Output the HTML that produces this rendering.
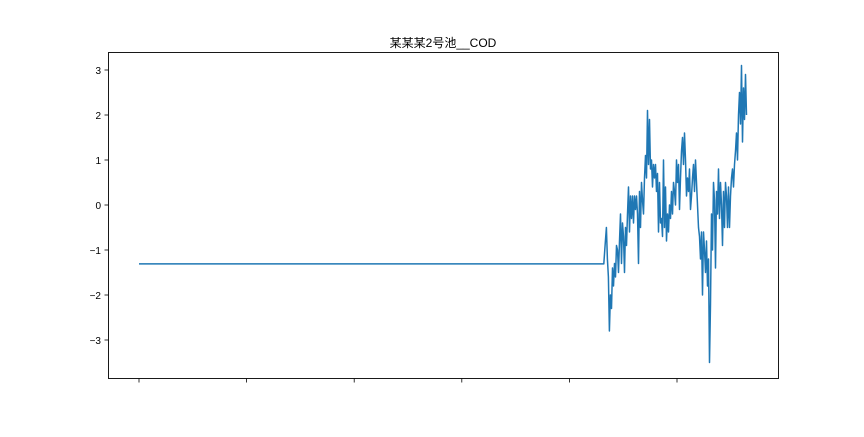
<!DOCTYPE html>
<html><head><meta charset="utf-8"><style>
body{margin:0;background:#fff;}
svg text{font-family:"Liberation Sans","DejaVu Sans","Noto Sans CJK SC",sans-serif;}
</style></head><body>
<svg id="chart" width="864" height="432" xmlns="http://www.w3.org/2000/svg">
<rect x="0" y="0" width="864" height="432" fill="#fff"/>
<text x="443" y="47" font-size="12" text-anchor="middle" fill="#000">某某某2号池__COD</text>
<g id="plot"></g>
<rect x="108.5" y="52.5" width="670" height="326" fill="none" stroke="#000" stroke-width="0.9"/>
</svg>
<script>
const yTicks=[3,2,1,0,-1,-2,-3];
const xTicks=[0,1,2,3,4,5];
const flatX=[0,4.32];
const flatValue=-1.31;
const noiseStartX=4.335;
const noiseStepX=0.0093;
const noiseValues=[-0.8,-0.5,-1.2,-1.6,-2.8,-2.0,-2.3,-1.4,-1.8,-1.3,-1.6,-0.9,-1.0,-1.5,-0.8,-0.2,-1.3,-0.4,-0.7,-1.5,-0.5,-0.9,-0.2,0.4,-0.6,0.2,-0.3,0.2,-0.4,0.2,-0.1,0.2,-0.2,-1.3,0.3,-0.5,0.5,0.1,-0.2,0.6,1.1,0.6,2.1,0.9,1.9,0.8,1.0,0.4,0.9,0.6,0.9,0.3,0.7,-0.6,0.5,-0.4,-0.3,-0.7,1.0,-0.5,0.4,-0.8,-0.2,-0.6,0.0,-0.3,0.3,-0.2,0.5,0.3,0.0,1.0,0.5,0.9,-0.1,0.6,1.2,1.5,0.9,1.6,1.0,0.2,0.6,0.3,0.8,-0.1,0.2,0.6,0.9,0.3,1.0,0.5,0.0,-0.5,-0.7,-1.2,-0.6,-2.0,-0.6,-1.0,-1.5,-0.8,-1.8,-1.2,-3.5,-2.2,-0.2,-1.0,0.5,0.1,-1.4,0.3,-0.2,0.8,-0.3,0.5,0.0,-0.9,0.3,-0.5,0.5,0.2,-0.5,0.4,-0.5,0.2,0.6,0.8,0.4,0.9,1.2,1.6,1.0,2.0,2.5,1.8,3.1,1.4,2.6,1.9,2.9,2.0];
const X=v=>139+v*107.6;
const Y=v=>205-v*45;
const NS="http://www.w3.org/2000/svg";
const g=document.getElementById('plot');
function mk(t,a){const e=document.createElementNS(NS,t);for(const k in a)e.setAttribute(k,a[k]);g.appendChild(e);return e;}
yTicks.forEach(t=>{
 const l=mk('line',{x1:104.5,x2:108.5,y1:Y(t),y2:Y(t),stroke:'#000','stroke-width':0.8});
 
 
 const tx=mk('text',{x:101,y:Y(t)+4,'font-size':10,'text-anchor':'end',fill:'#000'});
 tx.textContent=(t<0?'\u2212'+(-t):t);
 
 
});
xTicks.forEach(t=>{
 const l=mk('line',{x1:X(t),x2:X(t),y1:378.5,y2:382.5,stroke:'#000','stroke-width':0.8});
 
 
});
let pts=[[X(flatX[0]),Y(flatValue)],[X(flatX[1]),Y(flatValue)]];
noiseValues.forEach((v,i)=>pts.push([X(noiseStartX+i*noiseStepX),Y(v)]));
const p=mk('polyline',{points:pts.map(q=>q[0].toFixed(1)+','+q[1].toFixed(1)).join(' '),fill:'none',stroke:'#1f77b4','stroke-width':1.5,'stroke-linejoin':'round'});


</script>
</body></html>
